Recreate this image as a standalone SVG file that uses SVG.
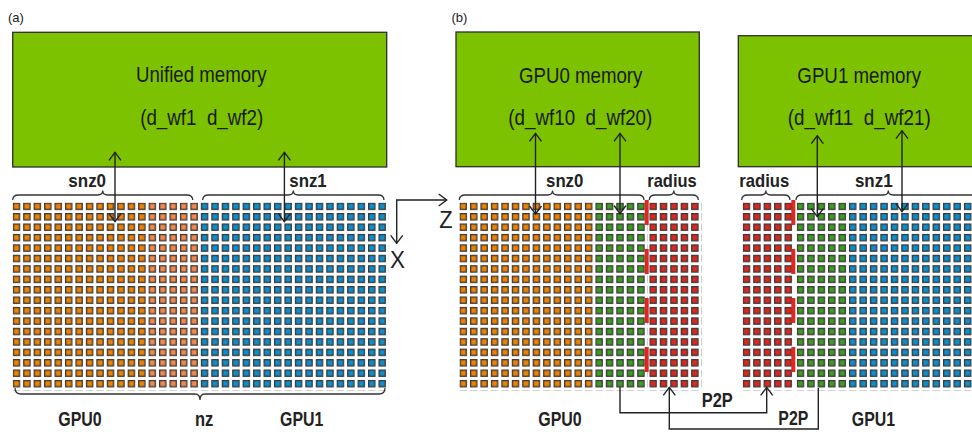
<svg xmlns="http://www.w3.org/2000/svg" width="972" height="432" viewBox="0 0 972 432">
<style>
.mem{fill:#7CC200;stroke:#2d2d2d;stroke-width:1.3}
.mt{font-family:"Liberation Sans",Arial,sans-serif;font-size:22px;fill:#1a1a1a;text-anchor:middle;white-space:pre}
.lb{font-family:"Liberation Sans",Arial,sans-serif;font-size:19px;font-weight:bold;fill:#222;text-anchor:middle}
.lg{font-family:"Liberation Sans",Arial,sans-serif;font-size:20px;font-weight:bold;fill:#222;text-anchor:middle}
.ax{font-family:"Liberation Sans",Arial,sans-serif;font-size:23px;fill:#222}
.pl{font-family:"Liberation Sans",Arial,sans-serif;font-size:13px;fill:#222}
.br{fill:none;stroke:#333;stroke-width:1.3}
.ln{fill:none;stroke:#222;stroke-width:1.4}
.dbl{marker-start:url(#ah);marker-end:url(#ah)}
.one{marker-end:url(#ah)}
.bar{stroke:#E0261E;stroke-width:4;stroke-dasharray:25 24}
</style>
<defs>
<marker id="ah" viewBox="0 0 10 14" refX="9" refY="7" markerWidth="10" markerHeight="14" markerUnits="userSpaceOnUse" orient="auto-start-reverse">
<path d="M1,1 L9,7 L1,13" fill="none" stroke="#222" stroke-width="1.4"/>
</marker>
<pattern id="pO" width="10.45" height="10.43" patternUnits="userSpaceOnUse"><rect x="0.65" y="0.65" width="6.2" height="6.2" fill="#EF8200" stroke="#3a3a3a" stroke-width="1.3"/></pattern>
<pattern id="pL" width="10.45" height="10.43" patternUnits="userSpaceOnUse"><rect x="0.65" y="0.65" width="6.2" height="6.2" fill="#F5894B" stroke="#3a3a3a" stroke-width="1.3"/></pattern>
<pattern id="pB" width="10.45" height="10.43" patternUnits="userSpaceOnUse"><rect x="0.65" y="0.65" width="6.2" height="6.2" fill="#0B8FCE" stroke="#3a3a3a" stroke-width="1.3"/></pattern>
<pattern id="pG" width="10.45" height="10.43" patternUnits="userSpaceOnUse"><rect x="0.65" y="0.65" width="6.2" height="6.2" fill="#3D9C22" stroke="#3a3a3a" stroke-width="1.3"/></pattern>
<pattern id="pR" width="10.45" height="10.43" patternUnits="userSpaceOnUse"><rect x="0.65" y="0.65" width="6.2" height="6.2" fill="#E0261E" stroke="#3a3a3a" stroke-width="1.3"/></pattern>
</defs>

<text class="pl" x="8" y="21.7">(a)</text>
<text class="pl" x="451.5" y="21.7">(b)</text>

<g id="unified-memory">
<rect class="mem" x="12.7" y="32.3" width="374" height="134.7"/>
<text class="mt" x="201.3" y="82.3" textLength="130.7" lengthAdjust="spacingAndGlyphs">Unified memory</text>
<text class="mt" x="201.7" y="124.5" textLength="123" lengthAdjust="spacingAndGlyphs">(d_wf1  d_wf2)</text>
</g>

<g id="gpu0-memory">
<rect class="mem" x="456" y="32" width="243.3" height="134.7"/>
<text class="mt" x="580.7" y="83.3" textLength="123.3" lengthAdjust="spacingAndGlyphs">GPU0 memory</text>
<text class="mt" x="580.3" y="124.7" textLength="144" lengthAdjust="spacingAndGlyphs">(d_wf10  d_wf20)</text>
</g>

<g id="gpu1-memory">
<rect class="mem" x="738.3" y="35.7" width="240" height="131"/>
<text class="mt" x="859.2" y="83.3" textLength="123.7" lengthAdjust="spacingAndGlyphs">GPU1 memory</text>
<text class="mt" x="859.2" y="125" textLength="143" lengthAdjust="spacingAndGlyphs">(d_wf11  d_wf21)</text>
</g>

<g id="grid-a">
<g transform="translate(12.7,202.6)">
<rect x="0" y="0" width="135.85" height="187.74" fill="url(#pO)"/>
<rect x="135.85" y="0" width="52.25" height="187.74" fill="url(#pL)"/>
<rect x="188.1" y="0" width="188.1" height="187.74" fill="url(#pB)"/>
</g>
</g>

<g id="grid-b-gpu0">
<g transform="translate(459.5,202.6)">
<rect x="0" y="0" width="135.85" height="187.74" fill="url(#pO)"/>
<rect x="135.85" y="0" width="52.25" height="187.74" fill="url(#pG)"/>
</g>
<g transform="translate(649.3,202.6)">
<rect x="0" y="0" width="52.25" height="187.74" fill="url(#pR)"/>
</g>
<line class="bar" x1="646.7" y1="200" x2="646.7" y2="372"/>
</g>

<g id="grid-b-gpu1">
<g transform="translate(742.7,202.6)">
<rect x="0" y="0" width="52.25" height="187.74" fill="url(#pR)"/>
</g>
<g transform="translate(796.7,202.6)">
<rect x="0" y="0" width="52.25" height="187.74" fill="url(#pG)"/>
</g>
<g transform="translate(848.95,202.6)">
<rect x="0" y="0" width="125.4" height="187.74" fill="url(#pB)"/>
</g>
<line class="bar" x1="793.3" y1="200" x2="793.3" y2="372"/>
</g>

<g id="braces">
<path class="br" d="M12.7,200 Q12.7,195 18.7,195 L97.7,195 Q102.7,195 102.7,190.5 Q102.7,195 107.7,195 L186.7,195 Q192.7,195 192.7,200"/>
<path class="br" d="M202.7,200 Q202.7,195 208.7,195 L288.3,195 Q293.3,195 293.3,190.5 Q293.3,195 298.3,195 L378,195 Q384,195 384,200"/>
<path class="br" d="M15,388 Q15,394 21,394 L195,394 Q200,394 200,400 Q200,394 205,394 L379,394 Q385,394 385,388"/>
<path class="br" d="M459.3,200 Q459.3,195 465.3,195 L547.5,195 Q552.5,195 552.5,190.5 Q552.5,195 557.5,195 L638,195 Q644,195 644,200"/>
<path class="br" d="M649.3,200 Q649.3,195 655.3,195 L668.8,195 Q673.8,195 673.8,190.5 Q673.8,195 678.8,195 L692.3,195 Q698.3,195 698.3,200"/>
<path class="br" d="M741.7,200 Q741.7,195 747.7,195 L760.9,195 Q765.9,195 765.9,190.5 Q765.9,195 770.9,195 L784,195 Q790,195 790,200"/>
<path class="br" d="M796,200 Q796,195 802,195 L883.3,195 Q888.3,195 888.3,190.5 Q888.3,195 893.3,195 L974.6,195 Q980.6,195 980.6,200"/>
</g>

<g id="labels">
<text class="lb" x="87.2" y="186.7" textLength="37.7" lengthAdjust="spacingAndGlyphs">snz0</text>
<text class="lb" x="308" y="186.7" textLength="37.4" lengthAdjust="spacingAndGlyphs">snz1</text>
<text class="lb" x="564.7" y="186.7" textLength="37.3" lengthAdjust="spacingAndGlyphs">snz0</text>
<text class="lb" x="672" y="186.7" textLength="49.4" lengthAdjust="spacingAndGlyphs">radius</text>
<text class="lb" x="764.3" y="186.7" textLength="50" lengthAdjust="spacingAndGlyphs">radius</text>
<text class="lb" x="873.8" y="186.7" textLength="37.7" lengthAdjust="spacingAndGlyphs">snz1</text>
<text class="lg" x="80" y="426" textLength="43.4" lengthAdjust="spacingAndGlyphs">GPU0</text>
<text class="lg" x="204.2" y="426" textLength="18.3" lengthAdjust="spacingAndGlyphs">nz</text>
<text class="lg" x="301.7" y="426" textLength="43.3" lengthAdjust="spacingAndGlyphs">GPU1</text>
<text class="lg" x="560" y="426" textLength="43.4" lengthAdjust="spacingAndGlyphs">GPU0</text>
<text class="lg" x="873.5" y="426" textLength="43.3" lengthAdjust="spacingAndGlyphs">GPU1</text>
<text class="lg" x="717.2" y="407.3" textLength="31" lengthAdjust="spacingAndGlyphs">P2P</text>
<text class="lg" x="793.3" y="425" textLength="30" lengthAdjust="spacingAndGlyphs">P2P</text>
<text class="ax" x="439.3" y="227.7" textLength="13.4" lengthAdjust="spacingAndGlyphs">Z</text>
<text class="ax" x="390" y="268.3" textLength="15" lengthAdjust="spacingAndGlyphs">X</text>
</g>

<g id="connectors">
<line class="ln dbl" x1="115" y1="152.3" x2="115" y2="221.7"/>
<line class="ln dbl" x1="284.4" y1="152.3" x2="284.4" y2="221.7"/>
<line class="ln dbl" x1="535.5" y1="133.3" x2="535.5" y2="214"/>
<line class="ln dbl" x1="620" y1="133.3" x2="620" y2="213.5"/>
<line class="ln dbl" x1="817.3" y1="135.7" x2="817.3" y2="216.7"/>
<line class="ln dbl" x1="902" y1="130.7" x2="902" y2="211.7"/>
<path class="ln dbl" d="M446.7,200 H396.7 V243.3"/>
<path class="ln one" d="M620,387 V412.7 H766.7 V387.3"/>
<path class="ln one" d="M818.3,388 V429 H669.3 V387.3"/>
</g>
</svg>
